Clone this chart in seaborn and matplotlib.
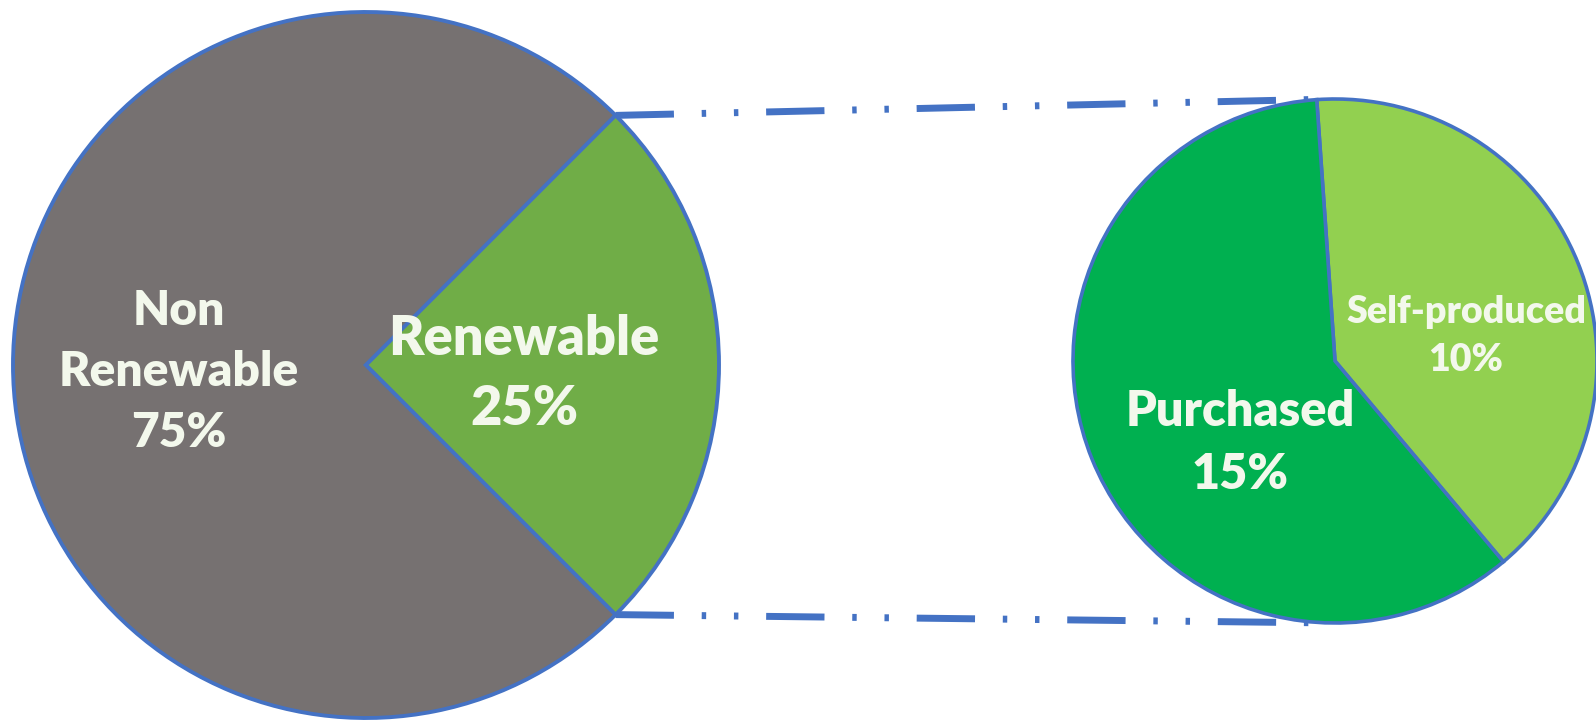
import numpy as np
import matplotlib
matplotlib.use("Agg")
import matplotlib.pyplot as plt
import seaborn as sns

# ---- data ----
main_labels = ["Non\nRenewable", "Renewable"]
main_values = [75, 25]
sub_labels = ["Self-produced", "Purchased"]
sub_values = [10, 15]

sns.set_theme(style="white")
plt.rcParams['font.family'] = ['Lato', 'DejaVu Sans']
plt.rcParams['lines.scale_dashes'] = False

W, H = 1596, 720
fig = plt.figure(figsize=(15.96, 7.2), dpi=100)
ax = fig.add_axes([0, 0, 1, 1])

edge = '#4472C4'
txt_color = '#F3F8EC'
main_colors = ['#767171', '#70AD47']
sub_colors = ['#92D050', '#00B050']

c1 = (366, H - 365); r1 = 353
c2 = (1335, H - 361); r2 = 262

w1, _ = ax.pie(main_values, colors=main_colors, startangle=45, center=c1,
               radius=r1, frame=True,
               wedgeprops=dict(edgecolor=edge, linewidth=2.8, zorder=2))
w2, _ = ax.pie(sub_values, colors=sub_colors, startangle=94, counterclock=False,
               center=c2, radius=r2, frame=True,
               wedgeprops=dict(edgecolor=edge, linewidth=2.6, zorder=2))

ax.set_xlim(0, W)
ax.set_ylim(0, H)
ax.set_aspect('equal')
ax.axis('off')

# main labels (offsets from big pie centre, in pixels)
main_offsets = [(-187, -7), (158, -9)]
main_fs = [34.5, 39]
for lab, v, off, fs in zip(main_labels, main_values, main_offsets, main_fs):
    ax.text(c1[0] + off[0], c1[1] + off[1], f"{lab}\n{v}%", ha='center', va='center',
            color=txt_color, fontsize=fs, fontweight='heavy', linespacing=1.48, zorder=5)

# sub labels (offsets from small pie centre, in pixels)
sub_offsets = [(131, 25), (-95, -82)]
sub_fs = [27, 35]
for lab, v, off, fs in zip(sub_labels, sub_values, sub_offsets, sub_fs):
    ax.text(c2[0] + off[0], c2[1] + off[1], f"{lab}\n{v}%", ha='center', va='center',
            color=txt_color, fontsize=fs, fontweight='heavy', linespacing=1.48, zorder=5)

# connector lines from renewable wedge corners to the secondary pie
ren = w1[1]
for ang, sgn in [(ren.theta2, 1), (ren.theta1, -1)]:
    a = np.deg2rad(ang)
    x0 = c1[0] + r1 * np.cos(a)
    y0 = c1[1] + r1 * np.sin(a)
    x1 = c2[0]
    y1 = c2[1] + sgn * r2
    ax.plot([x0, x1], [y0, y1], color=edge, lw=5, zorder=1,
            linestyle=(0, (42, 20, 3.2, 20, 3.2, 20)), dash_capstyle='butt')

fig.savefig("out.png", dpi=100, facecolor='white')
